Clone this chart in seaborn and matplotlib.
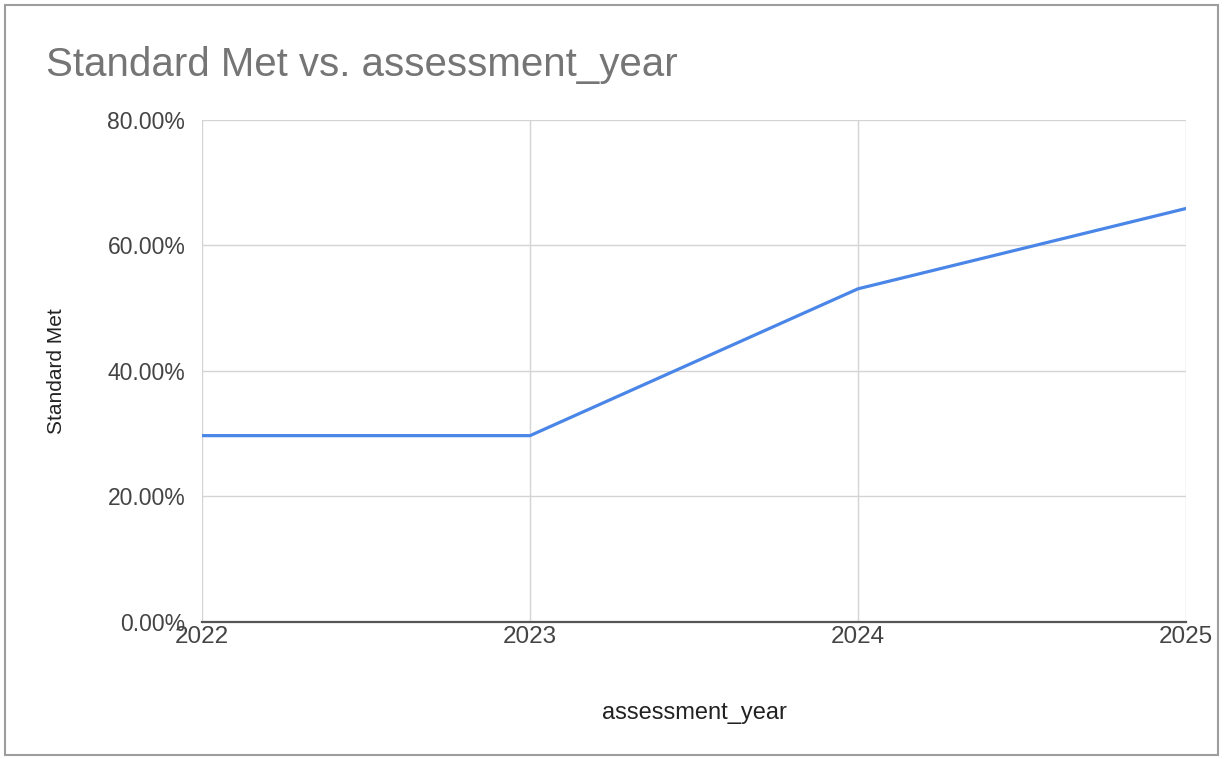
import matplotlib
matplotlib.use("Agg")
import matplotlib.pyplot as plt
import matplotlib.patches as patches
from matplotlib.ticker import FuncFormatter
import pandas as pd
import seaborn as sns

# values
years = [2022, 2023, 2024, 2025]
standard_met = [0.297, 0.297, 0.531, 0.659]

df = pd.DataFrame({"assessment_year": years, "Standard Met": standard_met})

sns.set_style("white")
plt.rcParams["font.family"] = ["Liberation Sans", "DejaVu Sans"]

fig = plt.figure(figsize=(12.25, 7.59), dpi=100)
ax = fig.add_axes([0.1649, 0.1805, 0.8033, 0.6614])

sns.lineplot(data=df, x="assessment_year", y="Standard Met", ax=ax,
             color="#4a86e8", linewidth=2.3)

ax.set_xlim(2022, 2025)
ax.set_ylim(0, 0.8)
ax.set_xticks(years)
ax.set_yticks([0, 0.2, 0.4, 0.6, 0.8])
ax.yaxis.set_major_formatter(FuncFormatter(lambda v, _: f"{v * 100:.2f}%"))
ax.grid(True, color="#d4d4d4", linewidth=1.0)
ax.set_axisbelow(True)

for side in ("top", "right", "left"):
    ax.spines[side].set_visible(False)
ax.spines["bottom"].set_color("#555555")
ax.spines["bottom"].set_linewidth(1.6)

ax.tick_params(axis="both", length=0, colors="#444444")
ax.tick_params(axis="y", pad=12, labelsize=16.5)
ax.tick_params(axis="x", pad=3, labelsize=17.5)

ax.set_xlabel("assessment_year", fontsize=17, color="#222222", labelpad=39)
ax.set_ylabel("Standard Met", fontsize=15, color="#222222", labelpad=30)

fig.text(0.0375, 0.914, "Standard Met vs. assessment_year", fontsize=29,
         color="#757575", ha="left", va="center")

# outer frame around the chart
fig.patches.append(patches.Rectangle((0.004, 0.005), 0.99, 0.988,
                                     transform=fig.transFigure, fill=False,
                                     edgecolor="#9e9e9e", linewidth=1.5))

fig.savefig("out.png", dpi=100)
